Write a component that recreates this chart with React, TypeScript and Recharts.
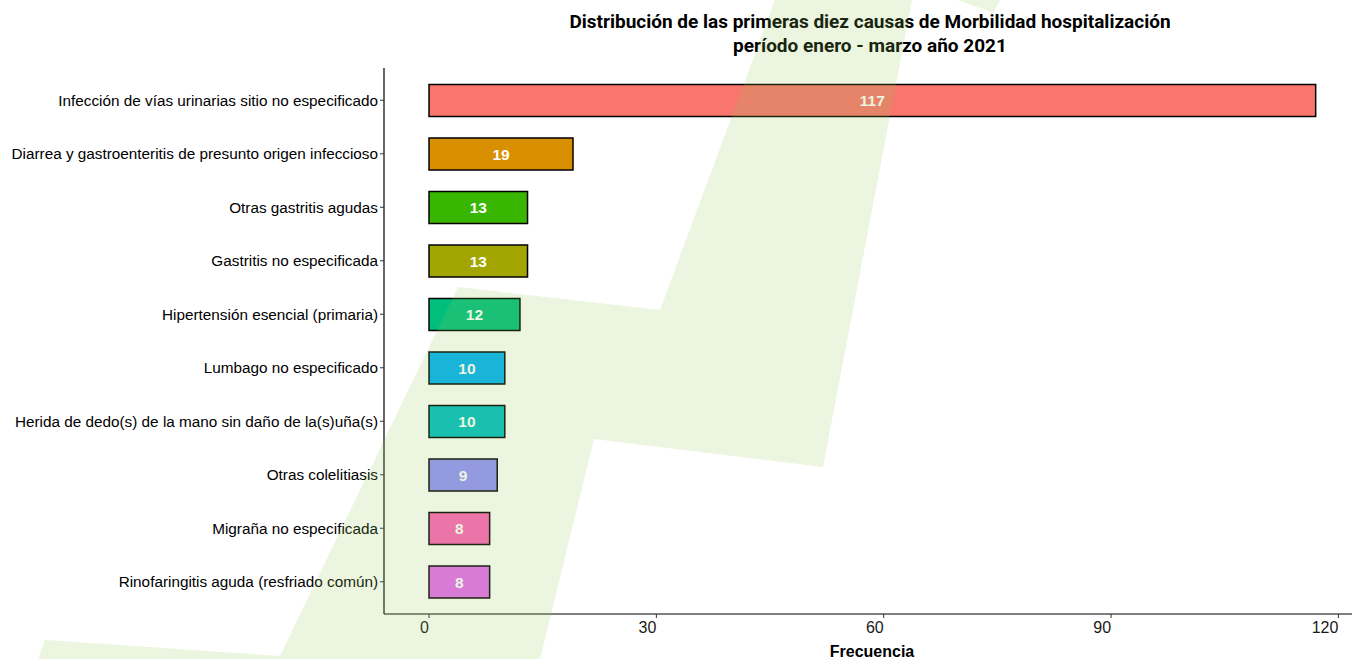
import { Bar, BarChart, Cell, LabelList, XAxis, YAxis } from "recharts";

const causas = [
    "Infección de vías urinarias sitio no especificado",
    "Diarrea y gastroenteritis de presunto origen infeccioso",
    "Otras gastritis agudas",
    "Gastritis no especificada",
    "Hipertensión esencial (primaria)",
    "Lumbago no especificado",
    "Herida de dedo(s) de la mano sin daño de la(s)uña(s)",
    "Otras colelitiasis",
    "Migraña no especificada",
    "Rinofaringitis aguda (resfriado común)",
];
const frecuencias = [117, 19, 13, 13, 12, 10, 10, 9, 8, 8];
const colores = [
    "#F8766D",
    "#D89000",
    "#39B600",
    "#A3A500",
    "#00BF7D",
    "#00B0F6",
    "#00BFC4",
    "#9590FF",
    "#FF62BC",
    "#E76BF3",
];
const ticksX = [0, 30, 60, 90, 120];

const data = causas.map((causa, i) => ({ causa, n: frecuencias[i] }));

// fondo decorativo (marca de agua verde)
const marcaAgua =
    "775,0 912,0 823,467 594,439 540,659 38,659 45,640 280,656 458,287 660,310";

// etiquetas del eje x alineadas a la derecha del tick, como en el original
function TickX({ x, y, payload }: any) {
    return (
        <text
            x={x}
            y={y}
            dy="0.71em"
            textAnchor="end"
            fill="#1a1a1a"
            fontSize={16}
            fontFamily="Liberation Sans"
        >
            {payload.value}
        </text>
    );
}

export default function App() {
    return (
        <div
            style={{
                position: "absolute",
                left: 0,
                top: 0,
                width: 1352,
                height: 659,
                overflow: "hidden",
                background: "#fff",
            }}
        >
            <div
                style={{
                    position: "absolute",
                    top: 10,
                    left: 386,
                    width: 968,
                    textAlign: "center",
                    fontFamily: "Roboto",
                    fontWeight: 700,
                    fontSize: 19,
                    lineHeight: "24px",
                    color: "#000",
                }}
            >
                Distribución de las primeras diez causas de Morbilidad hospitalización
                <br />
                período enero - marzo año 2021
            </div>
            <BarChart
                width={1362}
                height={659}
                layout="vertical"
                data={data}
                margin={{ top: 68, right: 2, bottom: 0, left: 4 }}
            >
                <XAxis
                    type="number"
                    domain={[-5.94, 122.85]}
                    ticks={ticksX}
                    allowDataOverflow
                    height={45}
                    tickSize={4}
                    tickMargin={4}
                    axisLine={{ stroke: "#000", strokeWidth: 1.2 }}
                    tickLine={{ stroke: "#333" }}
                    tick={<TickX />}
                    label={{
                        value: "Frecuencia",
                        position: "insideBottom",
                        offset: 2,
                        fill: "#000",
                        fontSize: 16,
                        fontWeight: 700,
                        fontFamily: "Liberation Sans",
                    }}
                />
                <YAxis
                    type="category"
                    dataKey="causa"
                    width={380}
                    interval={0}
                    padding={{ top: 5.5, bottom: 5.5 }}
                    tickSize={4}
                    tickMargin={2}
                    axisLine={{ stroke: "#000", strokeWidth: 1.2 }}
                    tickLine={{ stroke: "#333" }}
                    tick={{ fill: "#000", fontSize: 15.3, fontFamily: "Liberation Sans" }}
                />
                <Bar
                    dataKey="n"
                    barSize={32}
                    stroke="#000"
                    strokeWidth={1.5}
                    isAnimationActive={false}
                >
                    {data.map((d, i) => (
                        <Cell key={d.causa} fill={colores[i]} />
                    ))}
                    <LabelList
                        dataKey="n"
                        position="center"
                        fill="#fff"
                        stroke="none"
                        fontSize={15.5}
                        fontWeight={700}
                        fontFamily="Liberation Sans"
                    />
                </Bar>
            </BarChart>
            <svg
                width={1352}
                height={659}
                style={{ position: "absolute", left: 0, top: 0, pointerEvents: "none" }}
            >
                <polygon points={marcaAgua} fill="rgb(144,200,83)" fillOpacity={0.18} />
                <polygon points="958,0 1000,0 993,13" fill="rgb(144,200,83)" fillOpacity={0.18} />
            </svg>
        </div>
    );
}
